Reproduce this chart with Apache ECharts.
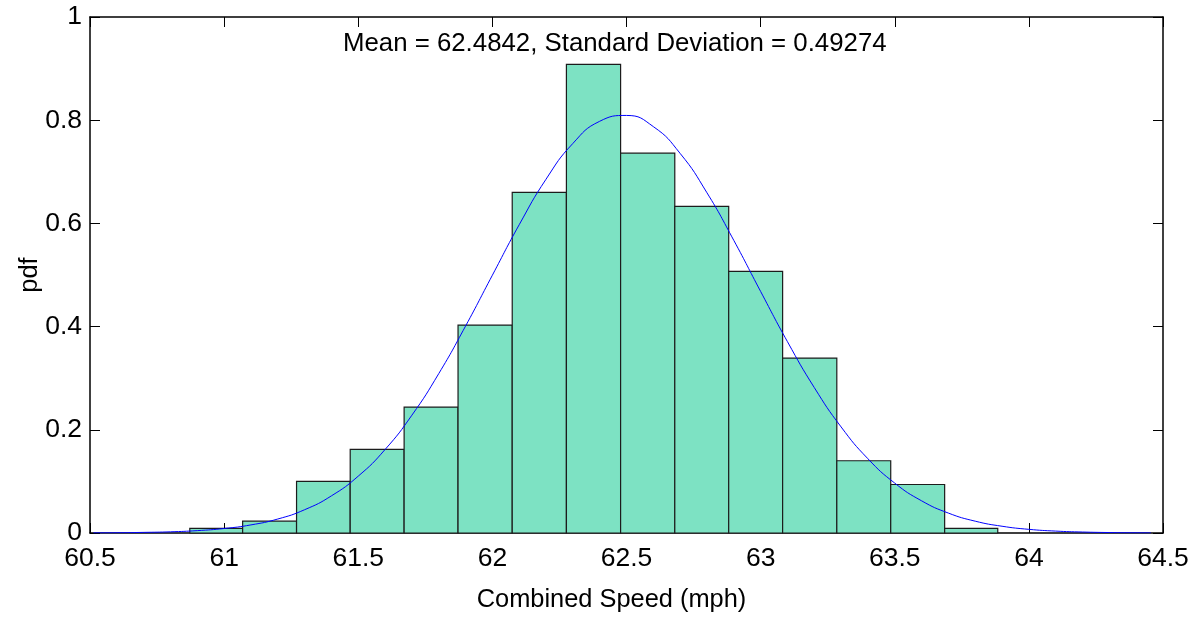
<!DOCTYPE html>
<html>
<head>
<meta charset="utf-8">
<script src="https://cdn.jsdelivr.net/npm/echarts@6/dist/echarts.min.js"></script>
<style>
  html, body { margin: 0; padding: 0; background: #fff; }
  #chart { width: 1196px; height: 620px; }
</style>
</head>
<body>
<div id="chart"></div>
<script>
// Histogram bin edges (mph) and bar heights (pdf)
var binEdges = [60.872, 61.069, 61.270, 61.470, 61.671, 61.872, 62.074, 62.276,
                62.478, 62.680, 62.881, 63.082, 63.284, 63.485, 63.686, 63.884];
var binValues = [0.009, 0.023, 0.100, 0.162, 0.244, 0.403, 0.660, 0.908,
                 0.736, 0.633, 0.507, 0.339, 0.140, 0.094, 0.009];

// Fitted curve points
var curveX = [60.513, 60.6, 60.7, 60.8, 60.9, 61.0, 61.1, 61.2, 61.3, 61.4,
              61.5, 61.6, 61.7, 61.8, 61.9, 62.0, 62.1, 62.2, 62.3, 62.4,
              62.5, 62.6, 62.7, 62.8, 62.9, 63.0, 63.1, 63.2, 63.3, 63.4,
              63.5, 63.6, 63.7, 63.8, 63.9, 64.0, 64.1, 64.2, 64.3, 64.4, 64.455];
var curveY = [0.0003, 0.0005, 0.0012, 0.0023, 0.0046, 0.0087, 0.0157, 0.0271, 0.0451, 0.0720,
              0.1102, 0.1618, 0.2283, 0.3088, 0.4010, 0.4996, 0.5974, 0.6856, 0.7549, 0.7979,
              0.8092, 0.7876, 0.7356, 0.6593, 0.5671, 0.4681, 0.3708, 0.2819, 0.2056, 0.1439,
              0.0967, 0.0624, 0.0386, 0.0229, 0.0131, 0.0071, 0.0037, 0.0019, 0.0009, 0.0004, 0.0003];

var xTicks = [60.5, 61, 61.5, 62, 62.5, 63, 63.5, 64, 64.5];
var yTicks = [0, 0.2, 0.4, 0.6, 0.8, 1];

var titleText = 'Mean = 62.4842, Standard Deviation = 0.49274';
var xName = 'Combined Speed (mph)';
var yName = 'pdf';

var FONT = '"Liberation Sans", Arial, Helvetica, sans-serif';

var histData = [];
for (var i = 0; i < binValues.length; i++) {
  histData.push([binEdges[i], binEdges[i + 1], binValues[i]]);
}
var curveData = curveX.map(function (x, i) { return [x, curveY[i]]; });

var chart = echarts.init(document.getElementById('chart'), null, { renderer: 'canvas' });

function axisCommon(extra) {
  var base = {
    axisLine: { show: true, onZero: false, lineStyle: { color: '#000', width: 1.5 } },
    axisTick: { show: true, inside: true, length: 10, lineStyle: { color: '#000', width: 1 } },
    splitLine: { show: false }
  };
  for (var k in extra) base[k] = extra[k];
  return base;
}

var option = {
  animation: false,
  backgroundColor: '#fff',
  title: {
    text: titleText,
    left: 343,
    top: 31,
    padding: 0,
    textStyle: { fontFamily: FONT, fontSize: 25.8, fontWeight: 'normal', color: '#000' }
  },
  grid: { left: 90, right: 33, top: 17, bottom: 87, containLabel: false },
  xAxis: [
    axisCommon({
      type: 'value', position: 'bottom',
      min: xTicks[0], max: xTicks[xTicks.length - 1], interval: 0.5,
      name: xName, nameLocation: 'middle', nameGap: 54,
      nameTextStyle: { fontFamily: FONT, fontSize: 25.4, color: '#000', padding: [0, 30, 0, 0] },
      axisLabel: {
        margin: 12, fontFamily: FONT, fontSize: 26.5, color: '#000',
        formatter: function (v) { return String(+v.toFixed(2)); }
      }
    }),
    axisCommon({
      type: 'value', position: 'top',
      min: xTicks[0], max: xTicks[xTicks.length - 1], interval: 0.5,
      axisLabel: { show: false }
    })
  ],
  yAxis: [
    axisCommon({
      type: 'value', position: 'left',
      min: yTicks[0], max: yTicks[yTicks.length - 1], interval: 0.2,
      name: yName, nameLocation: 'middle', nameGap: 48,
      nameMoveOverlap: false,
      nameTextStyle: { fontFamily: FONT, fontSize: 25.4, color: '#000' },
      axisLabel: {
        margin: 8, fontFamily: FONT, fontSize: 26.5, color: '#000',
        formatter: function (v) { return String(+v.toFixed(2)); }
      }
    }),
    axisCommon({
      type: 'value', position: 'right',
      min: yTicks[0], max: yTicks[yTicks.length - 1], interval: 0.2,
      axisLabel: { show: false }
    })
  ],
  series: [
    {
      type: 'custom',
      xAxisIndex: 0, yAxisIndex: 0,
      z: 3,
      renderItem: function (params, api) {
        var p0 = api.coord([api.value(0), api.value(2)]);
        var p1 = api.coord([api.value(1), 0]);
        return {
          type: 'rect',
          shape: { x: p0[0], y: p0[1], width: p1[0] - p0[0], height: p1[1] - p0[1] },
          style: { fill: '#7DE2C3', stroke: '#1c1c1c', lineWidth: 1.2 }
        };
      },
      encode: { x: [0, 1], y: 2 },
      data: histData
    },
    {
      type: 'line',
      xAxisIndex: 0, yAxisIndex: 0,
      z: 4,
      data: curveData,
      showSymbol: false,
      smooth: 0.5,
      lineStyle: { color: '#0000FF', width: 1 }
    }
  ]
};
chart.setOption(option);
</script>
</body>
</html>
